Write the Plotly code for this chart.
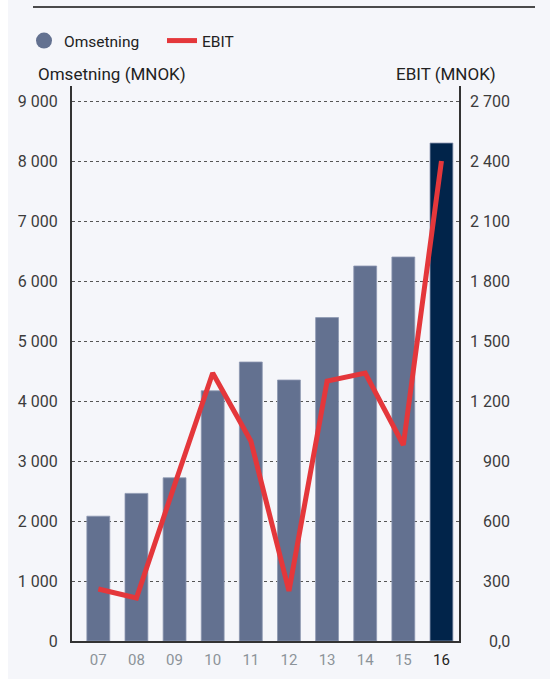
import plotly.graph_objects as go

# Revenue (Omsetning) and EBIT per year, MNOK
years = ["07", "08", "09", "10", "11", "12", "13", "14", "15", "16"]
omsetning = [2080, 2460, 2720, 4170, 4650, 4350, 5390, 6250, 6400, 8300]
ebit = [260, 215, 780, 1340, 1000, 250, 1300, 1340, 980, 2400]

left_ticks = [0, 1000, 2000, 3000, 4000, 5000, 6000, 7000, 8000, 9000]
left_labels = ["0", "1 000", "2 000", "3 000", "4 000", "5 000", "6 000", "7 000", "8 000", "9 000"]
right_ticks = [0, 300, 600, 900, 1200, 1500, 1800, 2100, 2400, 2700]
right_labels = ["0,0", "300", "600", "900", "1 200", "1 500", "1 800", "2 100", "2 400", "2 700"]

BAR = "#637190"
BAR_LAST = "#01244a"
RED = "#e4373b"
BG = "#f5f6fa"
AXIS = "#333333"
FONT = "Roboto"

# plot area in pixels
W, H = 550, 679
L, R, T, B = 72, 91, 86, 38
PW = W - L - R
PH = H - T - B

bar_colors = [BAR] * (len(years) - 1) + [BAR_LAST]
x_text = [y if i < len(years) - 1 else '<span style="color:#1e1e1e">' + y + "</span>"
          for i, y in enumerate(years)]

fig = go.Figure()
fig.add_trace(go.Bar(
    x=years, y=omsetning, name="Omsetning", showlegend=False,
    marker=dict(color=bar_colors, line=dict(color="#8d98b1", width=0.8)),
    yaxis="y",
))
# circular legend key for the revenue bars
fig.add_trace(go.Scatter(
    x=[None], y=[None], mode="markers", name="Omsetning",
    marker=dict(color=BAR, size=17, symbol="circle"),
))
fig.add_trace(go.Scatter(
    x=years, y=ebit, mode="lines", name="EBIT",
    line=dict(color=RED, width=5),
    yaxis="y2",
))

annotations = [
    dict(text=lab, x=(512 - L) / PW, xref="paper", xanchor="right",
         y=v, yref="y2", yanchor="middle", showarrow=False,
         font=dict(family=FONT, size=16, color="#3c3c3c"))
    for v, lab in zip(right_ticks, right_labels)
]
annotations += [
    dict(text="Omsetning (MNOK)", x=(36 - L) / PW, xref="paper", xanchor="left",
         y=(H - B - 74) / PH, yref="paper", yanchor="middle", showarrow=False,
         font=dict(family=FONT, size=17, color="#222222")),
    dict(text="EBIT (MNOK)", x=(498 - L) / PW, xref="paper", xanchor="right",
         y=(H - B - 74) / PH, yref="paper", yanchor="middle", showarrow=False,
         font=dict(family=FONT, size=17, color="#222222")),
]

shapes = [
    # white margin strip on the left
    dict(type="rect", xref="paper", yref="paper",
         x0=(0 - L) / PW, x1=(8 - L) / PW, y0=-0.2, y1=1.3,
         fillcolor="white", line=dict(width=0), layer="below"),
    # rule across the top
    dict(type="line", xref="paper", yref="paper",
         x0=(33 - L) / PW, x1=(535 - L) / PW,
         y0=(H - B - 7) / PH, y1=(H - B - 7) / PH,
         line=dict(color="#111111", width=1.5)),
]

fig.update_layout(
    width=W, height=H,
    margin=dict(l=L, r=R, t=T, b=B, pad=0, autoexpand=False),
    paper_bgcolor=BG, plot_bgcolor=BG,
    font=dict(family=FONT, color="#3c3c3c"),
    bargap=0.4,
    showlegend=True,
    legend=dict(orientation="h", xref="container", yref="container",
                x=24 / W, xanchor="left", y=1 - 24 / H, yanchor="top",
                font=dict(family=FONT, size=15.5, color="#222222"),
                entrywidth=93, entrywidthmode="pixels",
                bgcolor="rgba(0,0,0,0)", borderwidth=0),
    xaxis=dict(type="category", range=[-0.69, 9.46], automargin=False,
               tickvals=years, ticktext=x_text,
               showline=True, linecolor=AXIS, linewidth=2,
               showgrid=False, zeroline=False, ticks="",
               ticklabelstandoff=4,
               tickfont=dict(family=FONT, size=15, color="#8c9399")),
    yaxis=dict(range=[0, 9250], tickvals=left_ticks, ticktext=left_labels,
               automargin=False,
               showline=True, linecolor=AXIS, linewidth=2,
               showgrid=True, gridcolor="#555555", gridwidth=1, griddash="dot",
               zeroline=False, ticks="", ticklabelstandoff=9,
               tickfont=dict(family=FONT, size=16, color="#3c3c3c")),
    yaxis2=dict(range=[0, 2775], overlaying="y", side="right", automargin=False,
                showline=True, linecolor=AXIS, linewidth=2,
                showgrid=False, zeroline=False, showticklabels=False, ticks=""),
    annotations=annotations,
    shapes=shapes,
)

fig.write_html("out.html")
